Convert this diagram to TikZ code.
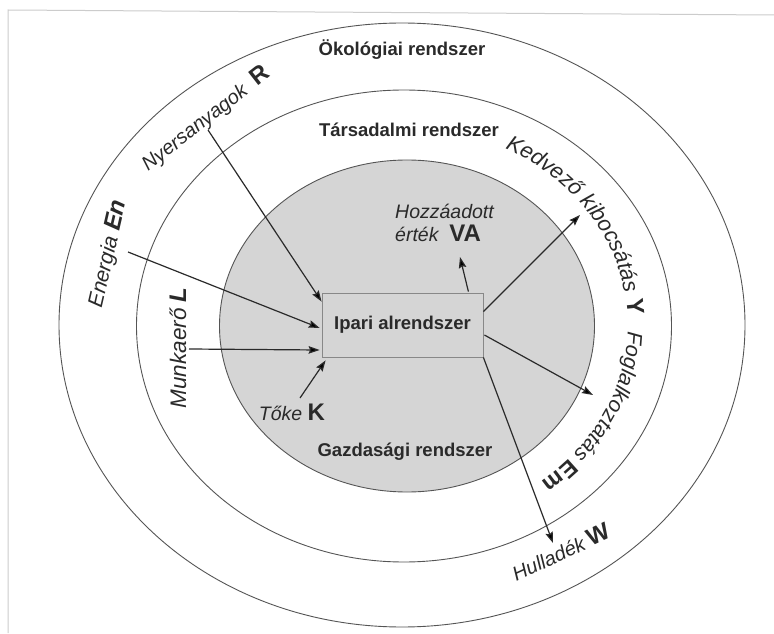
\documentclass[tikz,border=0pt]{standalone}
\usepackage{fontspec}
\setmainfont{Liberation Sans}
\usetikzlibrary{arrows.meta,decorations.text,calc}
\definecolor{ink}{HTML}{2A2A2A}
\definecolor{linec}{HTML}{555555}
\definecolor{fillg}{HTML}{D5D5D5}
\definecolor{boxc}{HTML}{888888}
\definecolor{framec}{HTML}{CCCCCC}
\newcommand{\bigb}[1]{{\fontsize{24}{28}\selectfont\bfseries #1}}
\begin{document}
\begin{tikzpicture}[x=1pt,y=1pt,
  ring/.style={draw=linec, line width=0.9pt},
  syslabel/.style={font=\fontsize{18.5}{22}\selectfont\bfseries, text=ink, inner sep=0pt},
  flowlabel/.style={font=\fontsize{19.5}{23}\selectfont\itshape, text=ink, inner sep=0pt},
  flow/.style={draw=ink, line width=1.2pt, -{Stealth[length=11pt,width=7.5pt,inset=1.5pt]}},
]
\useasboundingbox (0,0) rectangle (774,633);
\fill[white] (0,0) rectangle (774,633);
\draw[framec, line width=1pt] (8,0) -- (8,623) -- (774,618);

% ellipses
\draw[ring] (402,308) ellipse [x radius=343, y radius=302];
\draw[ring] (404,307) ellipse [x radius=267.5, y radius=236];
\draw[ring, fill=fillg] (407,307) ellipse [x radius=187.5, y radius=166];

% central box
\node[draw=boxc, line width=0.8pt, fill=fillg, minimum width=161pt, minimum height=64pt, inner sep=0pt] (box) at (402.5,308) {};
\node[syslabel] (ipari) at (box.center) {Ipari alrendszer};

% system labels
\node[syslabel] (eko) at (402,583) {Ökológiai rendszer};
\node[syslabel] (tars) at (409,503) {Társadalmi rendszer};
\node[syslabel] (gazd) at (405,181) {Gazdasági rendszer};

% flow labels
\node[flowlabel, anchor=base west] (va1) at (395,414) {Hozzáadott};
\node[flowlabel, anchor=base west] (va) at (395,391) {érték\ \ \bigb{\upshape VA}};
\node[flowlabel] (toke) at (292,221) {Tőke \bigb{\upshape K}};
\node[flowlabel, font=\fontsize{20}{24}\selectfont\itshape, rotate=38] (nyers) at (206,514) {Nyersanyagok\ \ \bigb{\upshape R}};
\node[flowlabel, font=\fontsize{21.2}{25}\selectfont\itshape, rotate=77] (energ) at (108,379) {Energia \bigb{En}};
\node[flowlabel, font=\fontsize{22.5}{26}\selectfont\itshape, rotate=90, anchor=base] (munka) at (186,285) {Munkaerő \bigb{L}};
\node[flowlabel, font=\fontsize{20}{24}\selectfont\itshape, rotate=25] (hull) at (561,81) {Hulladék \bigb{\upshape W}};

\path[decorate, decoration={text along path, text color=ink,
  text={|\fontsize{22}{26}\selectfont\itshape|Kedvező kibocsátás |\fontsize{24}{28}\selectfont\bfseries\upshape|Y}}]
  (403,308) ++(63:225 and 198) arc[start angle=63, end angle=-10, x radius=225, y radius=198];
\path[decorate, decoration={text along path, text color=ink,
  text={|\fontsize{21.3}{25}\selectfont\itshape|Foglalkoztatás |\fontsize{23}{27}\selectfont\bfseries\upshape|Em}}]
  (403,308) ++(-2:225 and 198) arc[start angle=-2, end angle=-85, x radius=225, y radius=198];

% arrows
\coordinate (nyS) at (208,503);
\coordinate (enS) at (128,381);
\coordinate (muS) at (189,284);
\coordinate (toS) at (300,235);
\coordinate (vaT) at (460,376);
\coordinate (keT) at (580,418);
\coordinate (foT) at (593,238);
\coordinate (huT) at (553,90);
\draw[flow] (nyS) -- ($(box.north west)+(0,-9)$);
\draw[flow] (enS) -- ($(box.west)+(-2,-3)$);
\draw[flow] (muS) -- ($(box.west)+(-2,-25)$);
\draw[flow] (toS) -- ($(box.south west)+(4,-3)$);
\draw[flow] ($(box.north east)+(-15,1)$) -- (vaT);
\draw[flow] ($(box.north east)+(0,-19)$) -- (keT);
\draw[flow] ($(box.east)+(1,-10)$) -- (foT);
\draw[flow] (box.south east) -- (huT);
\end{tikzpicture}
\end{document}
